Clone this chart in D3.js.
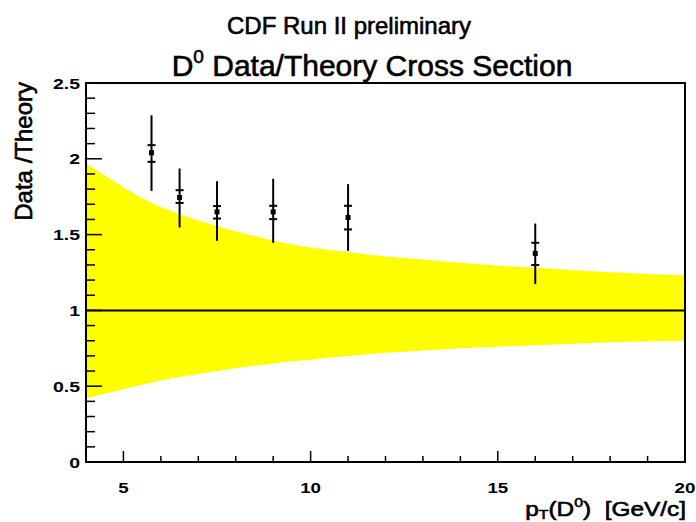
<!DOCTYPE html>
<html>
<head>
<meta charset="utf-8">
<script src="https://cdn.jsdelivr.net/npm/d3@7"></script>
<style>
  body { margin: 0; background: #fff; }
  svg { display: block; font-family: "Liberation Sans", Arial, sans-serif; }
  text { white-space: pre; }
  .tick-label { font-size: 15px; font-weight: bold; fill: #000; }
  .title { fill: #000; stroke: #000; stroke-width: 0.6px; }
</style>
</head>
<body>
<svg width="696" height="522"></svg>
<script>
// bin centres (GeV/c) and data/theory ratios
const ptBins = [5.75, 6.5, 7.5, 9, 11, 16];
const ratio = [2.04, 1.745, 1.65, 1.65, 1.613, 1.376];
const statUp = [2.09, 1.793, 1.688, 1.69, 1.69, 1.446];
const statDown = [1.98, 1.709, 1.606, 1.602, 1.534, 1.299];
const totUp = [2.287, 1.936, 1.852, 1.868, 1.833, 1.573];
const totDown = [1.788, 1.547, 1.459, 1.446, 1.393, 1.173];

// theory uncertainty band edges
const bandPt = [4, 4.5, 5, 5.5, 6, 6.5, 7, 7.5, 8, 8.5, 9, 9.5, 10, 10.5, 11, 11.5,
                12, 12.5, 13, 13.5, 14, 14.5, 15, 15.5, 16, 16.5, 17, 17.5, 18, 18.5, 19, 19.5, 20];
const bandHigh = [1.97, 1.89, 1.81, 1.74, 1.68, 1.635, 1.595, 1.555, 1.52, 1.49, 1.46, 1.435,
                  1.415, 1.398, 1.385, 1.37, 1.355, 1.345, 1.335, 1.325, 1.315, 1.305, 1.295, 1.288,
                  1.282, 1.275, 1.265, 1.258, 1.252, 1.246, 1.24, 1.235, 1.23];
const bandLow = [0.42, 0.45, 0.48, 0.51, 0.54, 0.56, 0.58, 0.60, 0.62, 0.635, 0.65, 0.665,
                 0.675, 0.69, 0.70, 0.71, 0.72, 0.728, 0.735, 0.742, 0.75, 0.755, 0.76, 0.765,
                 0.77, 0.775, 0.78, 0.785, 0.79, 0.793, 0.795, 0.798, 0.80];

const xTicks = [5, 10, 15, 20];
const yTicks = [0, 0.5, 1, 1.5, 2, 2.5];

let svg = d3.select("svg"),
    margin = {top: 83, bottom: 60, left: 86, right: 11},
    width = svg.attr("width") - margin.left - margin.right,
    height = svg.attr("height") - margin.top - margin.bottom;

let g = svg.append("g")
    .attr("transform", "translate(" + margin.left + "," + margin.top + ")");

let xScale = d3.scaleLinear().domain([4, 20]).range([0, width]);
let yScale = d3.scaleLinear().domain([0, 2.5]).range([height, 0]);

// yellow band
let band = bandPt.map((x, i) => ({x: x, hi: bandHigh[i], lo: bandLow[i]}));

g.append("path")
    .datum(band)
    .attr("fill", "#ffff00")
    .attr("d", d3.area()
        .x(d => xScale(d.x))
        .y0(d => yScale(d.lo))
        .y1(d => yScale(d.hi)));

// line at 1
g.append("line")
    .attr("x1", 0).attr("x2", width)
    .attr("y1", yScale(1)).attr("y2", yScale(1))
    .attr("stroke", "#000").attr("stroke-width", 2);

// ROOT-style inward ticks
let xMinor = d3.range(5, 20, 1);
g.selectAll(".xminor")
    .data(xMinor)
    .join("line")
    .attr("x1", d => xScale(d)).attr("x2", d => xScale(d))
    .attr("y1", height).attr("y2", d => height - (d % 5 === 0 ? 11 : 6))
    .attr("stroke", "#000").attr("stroke-width", 1.5);

let yMinor = d3.range(0.1, 2.5, 0.1);
g.selectAll(".yminor")
    .data(yMinor)
    .join("line")
    .attr("y1", d => yScale(d)).attr("y2", d => yScale(d))
    .attr("x1", 0)
    .attr("x2", d => (Math.abs(d * 2 - Math.round(d * 2)) < 1e-6 ? 16 : 9))
    .attr("stroke", "#000").attr("stroke-width", 1.5);

g.append("rect")
    .attr("width", width).attr("height", height)
    .attr("fill", "none").attr("stroke", "#000").attr("stroke-width", 2);

// tick labels, a bit wider than the stock font like the original
g.selectAll(".xlab")
    .data(xTicks)
    .join("text")
    .attr("class", "tick-label")
    .attr("transform", d => "translate(" + xScale(d) + "," + (height + 31) + ") scale(1.25,1)")
    .attr("text-anchor", "middle")
    .text(d => d);

g.selectAll(".ylab")
    .data(yTicks)
    .join("text")
    .attr("class", "tick-label")
    .attr("transform", d => "translate(-6," + (yScale(d) + 5.5) + ") scale(1.3,1)")
    .attr("text-anchor", "end")
    .text(d => d);

// error bars
let pts = ptBins.map((x, i) => ({x: x, y: ratio[i], su: statUp[i], sd: statDown[i], tu: totUp[i], td: totDown[i]}));

let marks = g.selectAll(".pt")
    .data(pts)
    .join("g")
    .attr("transform", d => "translate(" + xScale(d.x) + ",0)");

marks.append("line")
    .attr("y1", d => yScale(d.tu)).attr("y2", d => yScale(d.td))
    .attr("stroke", "#000").attr("stroke-width", 2);

["su", "sd"].forEach(k => {
    marks.append("line")
        .attr("x1", -4).attr("x2", 4)
        .attr("y1", d => yScale(d[k])).attr("y2", d => yScale(d[k]))
        .attr("stroke", "#000").attr("stroke-width", 2);
});

marks.append("rect")
    .attr("x", -2.5).attr("width", 5)
    .attr("y", d => yScale(d.y) - 2.5).attr("height", 5)
    .attr("fill", "#000");

// titles
svg.append("text").attr("class", "title")
    .attr("x", 349).attr("y", 34).attr("text-anchor", "middle")
    .attr("font-size", 24)
    .text("CDF Run II preliminary");

let t2 = svg.append("text").attr("class", "title")
    .attr("x", 372).attr("y", 76).attr("text-anchor", "middle")
    .attr("font-size", 30);
t2.append("tspan").text("D");
t2.append("tspan").attr("dy", -13).attr("font-size", 19).text("0");
t2.append("tspan").attr("dy", 13).text(" Data/Theory Cross Section");

svg.append("text").attr("class", "title")
    .attr("transform", "translate(32,82) rotate(-90)")
    .attr("text-anchor", "end")
    .attr("font-size", 24)
    .text("Data /Theory");

let xt = svg.append("text").attr("class", "title")
    .attr("font-size", 20)
    .attr("transform", "translate(686,516) scale(1.22,1)")
    .attr("text-anchor", "end");
xt.append("tspan").text("p");
xt.append("tspan").attr("dy", 3).attr("font-size", 13).text("T");
xt.append("tspan").attr("dy", -3).text("(D");
xt.append("tspan").attr("dy", -9).attr("font-size", 13).text("0");
xt.append("tspan").attr("dy", 9).text(")  [GeV/c]");
</script>
</body>
</html>
